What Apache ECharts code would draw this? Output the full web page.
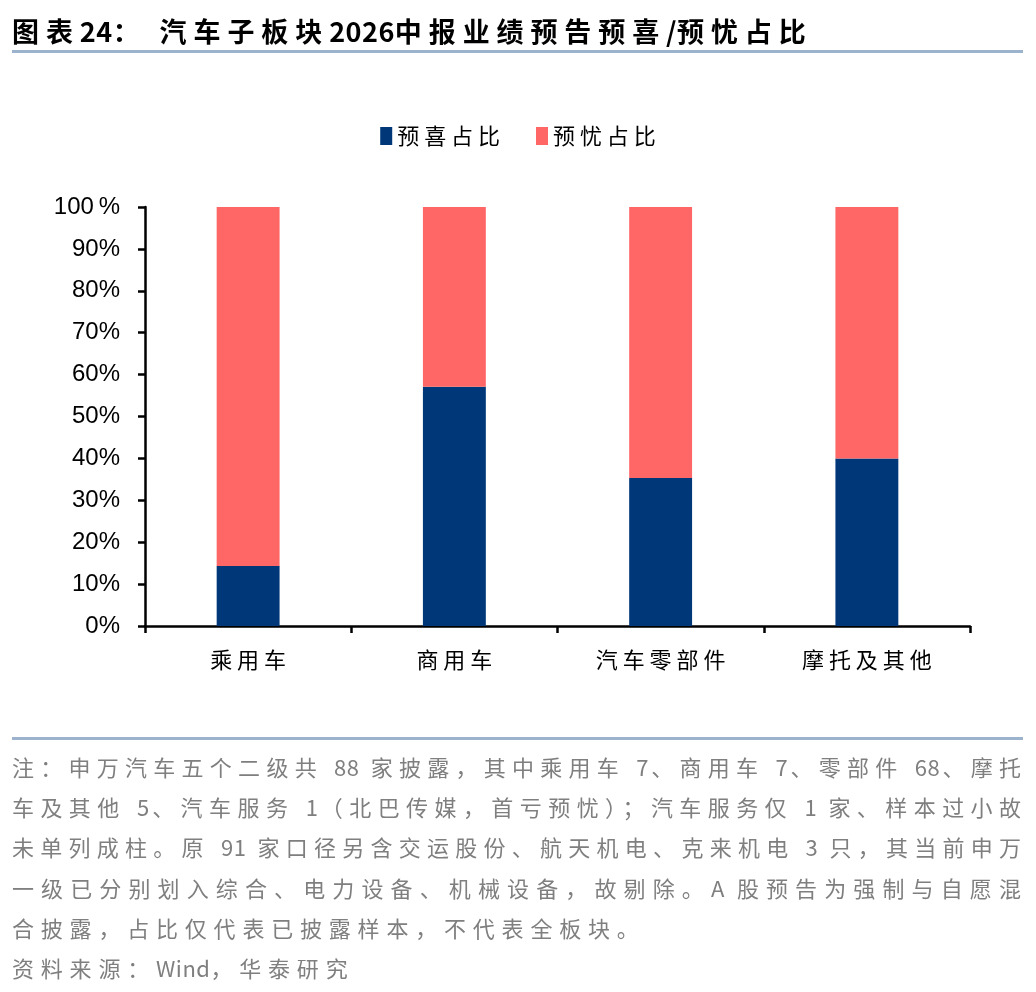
<!DOCTYPE html>
<html>
<head>
<meta charset="utf-8">
<script src="https://cdn.jsdelivr.net/npm/echarts@6/dist/echarts.min.js"></script>
<style>
  html, body { margin: 0; padding: 0; background: #fff; }
  #page { position: relative; width: 1036px; height: 992px; overflow: hidden; }
  #chart { position: absolute; left: 0; top: 0; width: 1036px; height: 992px; }
  #title {
    position: absolute; left: 12px; top: 13px;
    font-family: "Noto Sans CJK SC", sans-serif; font-weight: bold;
    font-size: 27px; line-height: 36px; color: #000; white-space: nowrap;
    letter-spacing: 6.9px;
  }
  .rule { position: absolute; left: 12px; width: 1011px; height: 3px; background: #9bb3cc; }
  #notes {
    position: absolute; left: 12px; top: 746px; width: 1013px;
    font-family: "Noto Sans CJK SC", sans-serif; font-size: 22px; line-height: 40.2px;
    color: #7f7f7f; letter-spacing: 6.8px;
  }
  #notes div { white-space: nowrap; }
  #notes .j { text-align: justify; text-align-last: justify; white-space: normal; letter-spacing: 4px; }
  .a { letter-spacing: 0.5px; }
</style>
</head>
<body>
<div id="page">
  <div id="chart"></div>
  <div id="title"></div>
  <div class="rule" style="top:50px"></div>
  <div class="rule" style="top:737px"></div>
  <div id="notes"></div>
</div>
<script>
// 数据
const categories = ['乘用车', '商用车', '汽车零部件', '摩托及其他'];
const seriesNames = ['预喜占比', '预忧占比'];
const goodShare = [14.3, 57.1, 35.3, 40.0];
const badShare = [85.7, 42.9, 64.7, 60.0];
const yTicks = [0, 10, 20, 30, 40, 50, 60, 70, 80, 90, 100];

const titleText = '图表24：\u00a0汽车子板块2026中报业绩预告预喜/预忧占比';
const noteLines = [
  '注：申万汽车五个二级共 88 家披露，其中乘用车 7、商用车 7、零部件 68、摩托',
  '车及其他 5、汽车服务 1（北巴传媒，首亏预忧）；汽车服务仅 1 家、样本过小故',
  '未单列成柱。原 91 家口径另含交运股份、航天机电、克来机电 3 只，其当前申万',
  '一级已分别划入综合、电力设备、机械设备，故剔除。A 股预告为强制与自愿混',
  '合披露，占比仅代表已披露样本，不代表全板块。',
  '资料来源：Wind，华泰研究'
];

// 西文数字不加宽字距
const tightAscii = s => s.replace(/[A-Za-z0-9\/]+/g, m => '<span class="a">' + m + '</span>');

document.getElementById('title').innerHTML = tightAscii(titleText);

const notes = document.getElementById('notes');
noteLines.forEach((t, i) => {
  const d = document.createElement('div');
  d.innerHTML = tightAscii(t);
  if (i < 4) d.className = 'j';
  notes.appendChild(d);
});

// 中文标签加字距
const spaced = s => s.split('').join(' ');

const chart = echarts.init(document.getElementById('chart'));
chart.setOption({
  animation: false,
  color: ['#003778', '#ff6666'],
  textStyle: { fontFamily: 'Liberation Sans, Arial, sans-serif' },
  legend: {
    top: 120,
    left: 'center',
    itemWidth: 12,
    itemHeight: 18,
    itemGap: 36,
    icon: 'rect',
    data: seriesNames,
    formatter: name => spaced(name),
    textStyle: { fontSize: 22, color: '#000', fontFamily: 'Noto Sans CJK SC' }
  },
  grid: { left: 145, right: 66, top: 207, bottom: 366, containLabel: false },
  xAxis: {
    type: 'category',
    data: categories,
    axisLine: { lineStyle: { color: '#000', width: 2.5 } },
    axisTick: { show: true, alignWithLabel: false, length: 7, lineStyle: { color: '#000', width: 2.5 } },
    axisLabel: {
      margin: 23, fontSize: 22, color: '#000', fontFamily: 'Noto Sans CJK SC',
      formatter: v => spaced(v)
    }
  },
  yAxis: {
    type: 'value',
    min: 0,
    max: 100,
    interval: 10,
    splitLine: { show: false },
    axisLine: { show: true, lineStyle: { color: '#000', width: 2.5 } },
    axisTick: { show: true, length: 7, lineStyle: { color: '#000', width: 2.5 } },
    axisLabel: {
      margin: 25, fontSize: 24, color: '#000',
      customValues: yTicks,
      formatter: v => (v === 100 ? '100\u2009%' : v + '%')
    }
  },
  series: [
    {
      name: seriesNames[0], type: 'bar', stack: 'total', barWidth: '30.5%',
      data: goodShare
    },
    {
      name: seriesNames[1], type: 'bar', stack: 'total', barWidth: '30.5%',
      data: badShare
    }
  ]
});
</script>
</body>
</html>
